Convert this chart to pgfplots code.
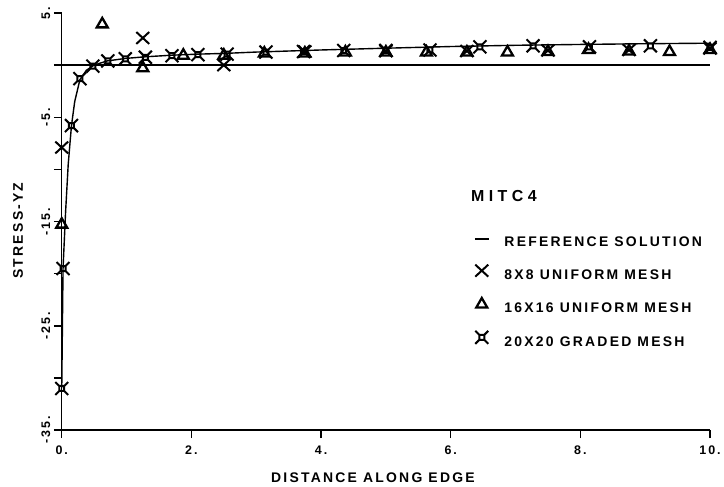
\documentclass[border=0pt]{standalone}
\usepackage{fontspec}
\setmainfont{Liberation Sans}[LetterSpace=16]
\usepackage{pgfplots}
\pgfplotsset{compat=1.18}

\pgfdeclareplotmark{bigx}{%
  \pgfpathmoveto{\pgfqpoint{-6.5pt}{-6pt}}\pgfpathlineto{\pgfqpoint{6.5pt}{6pt}}%
  \pgfpathmoveto{\pgfqpoint{-6.5pt}{6pt}}\pgfpathlineto{\pgfqpoint{6.5pt}{-6pt}}%
  \pgfusepathqstroke}
\pgfdeclareplotmark{tri}{%
  \pgfpathmoveto{\pgfqpoint{-5.5pt}{-4pt}}\pgfpathlineto{\pgfqpoint{5.5pt}{-4pt}}%
  \pgfpathlineto{\pgfqpoint{0pt}{5.5pt}}\pgfpathclose\pgfusepathqstroke}
\pgfdeclareplotmark{sqx}{%
  \pgfpathrectangle{\pgfqpoint{-2.5pt}{-2.5pt}}{\pgfqpoint{5pt}{5pt}}%
  \pgfpathmoveto{\pgfqpoint{2.5pt}{2.5pt}}\pgfpathlineto{\pgfqpoint{6.5pt}{6.5pt}}%
  \pgfpathmoveto{\pgfqpoint{-2.5pt}{2.5pt}}\pgfpathlineto{\pgfqpoint{-6.5pt}{6.5pt}}%
  \pgfpathmoveto{\pgfqpoint{2.5pt}{-2.5pt}}\pgfpathlineto{\pgfqpoint{6.5pt}{-6.5pt}}%
  \pgfpathmoveto{\pgfqpoint{-2.5pt}{-2.5pt}}\pgfpathlineto{\pgfqpoint{-6.5pt}{-6.5pt}}%
  \pgfusepathqstroke}

\pgfplotsset{
  markleg/.style={legend image code/.code={\draw[##1] plot coordinates {(7pt,4pt)};}},
  lineleg/.style={legend image code/.code={\draw[line width=1.6pt] (0pt,2pt) -- (14pt,2pt);}},
}

\newcommand{\lblfont}{\fontsize{14}{16}\selectfont\bfseries}
\newcommand{\tickfont}{\fontsize{12.5}{14}\selectfont\bfseries}

\begin{document}
\begin{tikzpicture}
\begin{axis}[
  name=ax,
  scale only axis, width=651pt, height=419pt,
  xmin=0, xmax=10, ymin=-35, ymax=5,
  axis lines=left,
  axis line style={-, line width=1.5pt},
  clip=false,
  tick align=outside,
  major tick length=8pt,
  every tick/.style={line width=1.5pt, black},
  xtick={0,2,4,6,8,10},
  xticklabels={0.,2.,4.,6.,8.,10.},
  ytick={-35,-30,-25,-20,-15,-10,-5,0,5},
  yticklabels={-35.,,-25.,,-15.,,-5.,,5.},
  ticklabel style={font=\tickfont},
  xticklabel style={yshift=-4pt},
  yticklabel style={rotate=90, anchor=south},
  xlabel={DISTANCE ALONG EDGE},
  ylabel={STRESS-YZ},
  every axis x label/.style={at={(axis description cs:0.48,0)}, anchor=base, yshift=-53pt, font=\lblfont},
  every axis y label/.style={at={(axis description cs:0,0.4785)}, xshift=-39pt, rotate=90, anchor=base, font=\lblfont},
  legend style={draw=none, fill=none, at={(axis cs:6.31,-16.2)}, anchor=north west,
    font=\lblfont, row sep=18.5pt,
    nodes={inner sep=0pt, text height=10pt, text depth=0pt},
    /tikz/every odd column/.style={column sep=15pt}},
  legend cell align=left,
]
\addplot[line width=1.3pt, forget plot] coordinates {(0,0) (10,0)};

\addplot[line width=1.4pt, black, mark=none, lineleg]
coordinates {
(0,-31) (0.02,-19.5) (0.06,-14) (0.1,-9.5) (0.15,-5.8) (0.2,-3.5) (0.28,-1.4)
(0.38,-0.5) (0.5,0.0) (0.7,0.4) (1.0,0.65) (1.3,0.8) (1.7,0.95) (2.1,1.05)
(2.5,1.12) (3,1.25) (4,1.45) (5,1.62) (6,1.78) (7,1.9) (8,1.98) (9,2.05) (10,2.1)
};
\addlegendentry{REFERENCE SOLUTION}

\addplot[only marks, mark=bigx, mark options={line width=2pt}, black, markleg]
coordinates {
(0,-7.9) (1.25,2.6) (2.5,0.0) (3.75,1.3) (5,1.35) (6.25,1.35) (7.5,1.4) (8.75,1.45) (10,1.6)
};
\addlegendentry{8X8 UNIFORM MESH}

\addplot[only marks, mark=tri, mark options={line width=2.3pt}, black, markleg]
coordinates {
(0,-15.2) (0.625,4.0) (1.25,-0.2) (1.875,1.0) (2.5,1.0) (3.125,1.2) (3.75,1.2)
(4.375,1.3) (5,1.3) (5.625,1.3) (6.25,1.3) (6.875,1.3) (7.5,1.35) (8.125,1.55)
(8.75,1.4) (9.375,1.35) (10,1.55)
};
\addlegendentry{16X16 UNIFORM MESH}

\addplot[only marks, mark=sqx, mark options={line width=2pt}, black, markleg]
coordinates {
(0,-31) (0.02,-19.5) (0.15,-5.8) (0.28,-1.3) (0.48,-0.1) (0.71,0.4) (0.98,0.6)
(1.29,0.75) (1.7,0.9) (2.1,1.0) (2.55,1.05) (3.15,1.25) (3.73,1.3) (4.35,1.4)
(5.0,1.4) (5.68,1.45) (6.45,1.75) (7.27,1.85) (8.14,1.75) (9.08,1.85) (10,1.7)
};
\addlegendentry{20X20 GRADED MESH}

\node[anchor=base west, inner sep=0pt, font=\fontsize{16}{18}\selectfont\bfseries\addfontfeature{LetterSpace=28}]
  at (axis cs:6.31,-13.08) {MITC4};
\end{axis}
\path ([xshift=-62pt,yshift=-55pt]ax.south west) rectangle ([xshift=11pt,yshift=13pt]ax.north east);
\end{tikzpicture}
\end{document}
